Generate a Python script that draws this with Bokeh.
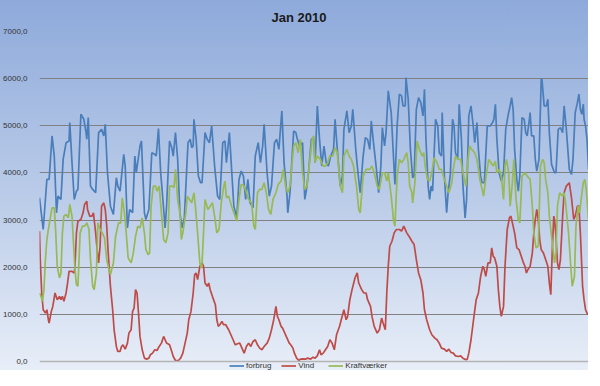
from bokeh.plotting import figure
from bokeh.models import Legend, LegendItem, FixedTicker, Span
from bokeh.embed import file_html
from bokeh.resources import INLINE

title_text = "Jan 2010"
y_ticks = [0, 1000, 2000, 3000, 4000, 5000, 6000, 7000]
y_tick_labels = ["0,0", "1000,0", "2000,0", "3000,0", "4000,0", "5000,0", "6000,0", "7000,0"]
series_names = ["forbrug", "Vind", "Kraftværker"]

# hour of month (0..743) and value
forbrug_hours = [0, 5, 8, 10, 13, 17, 20, 23, 25, 29, 32, 36, 40, 41, 44, 47, 50, 52, 56, 60, 63, 64, 66, 69, 72, 76, 80, 84, 87, 89, 92, 96, 100, 104, 106, 109, 114, 116, 119, 122, 126, 129, 131, 136, 138, 142, 144, 148, 152, 156, 158, 161, 164, 167, 170, 172, 176, 179, 181, 184, 187, 190, 193, 196, 199, 201, 204, 206, 208, 209, 212, 215, 218,
                 220, 224, 227, 230, 233, 237, 241, 244, 248, 251, 253, 257, 260, 263, 267, 270, 273, 276, 279, 282, 285, 289, 292, 296, 299, 302, 304, 308, 311, 314, 318, 321, 324, 328, 331, 335, 336, 339, 344, 347, 349, 352, 356, 359, 361, 364, 368, 371, 373, 376, 379, 382, 385, 388, 391, 394, 398, 400, 403, 407, 410, 412, 416, 419, 422, 424, 428, 431, 434, 438, 441, 444, 447, 449, 452, 456, 459, 462, 464, 467, 469, 472, 476, 479, 481, 484,
                 487, 490, 492, 495, 496, 499, 502, 505, 507, 510, 513, 516, 519, 521, 523, 526, 528, 530, 532, 536, 539, 541, 544, 545, 548, 551, 553, 556, 559, 561, 563, 566, 568, 571, 573, 576, 578, 581, 584, 587, 589, 592, 594, 597, 599, 602, 606, 610, 613, 615, 617, 619, 622, 625, 628, 631, 634, 636, 639, 641, 643, 646, 648, 650, 653, 656, 658, 660, 663, 664, 666, 669, 671, 673, 676, 679, 680, 683, 686, 688, 690, 693, 697, 699, 702, 705, 708, 710, 713, 717, 720, 722, 725, 728, 730, 732, 734, 736, 737, 739, 741, 743]
forbrug_values = [3473, 2800, 3437, 3862, 3862, 4784, 4358, 3154, 3508, 3437, 4288, 4642, 4677, 5067, 4217, 3437, 3614, 3650, 5244, 5138, 4855, 4713, 5174, 3721, 3650, 3579, 4855, 4925, 4784, 5032, 4004, 3295, 3118, 3898, 3721, 3614, 4394, 4146, 2835, 3225, 3154, 4358, 4004, 4571, 4677, 3154, 3012, 3225, 4429, 4394, 4358, 4940, 4004, 3437, 2835, 3295, 4677, 4536, 4358, 4855, 4288, 3154, 2835, 3047, 4004, 4642, 4713, 4536, 4571, 5138, 4713, 3933, 3792,
                  3792, 4855, 4713, 4642, 4996, 4146, 3508, 3437, 4642, 4677, 4217, 4855, 4075, 3295, 3047, 3862, 4040, 3933, 3437, 3862, 3366, 3260, 4358, 4642, 4217, 4571, 5032, 4004, 3508, 3721, 4642, 4713, 4500, 5315, 4217, 3508, 3154, 3579, 4890, 4855, 4713, 4571, 4642, 3437, 3614, 4004, 4713, 4748, 4217, 5421, 4713, 4146, 4571, 4217, 4146, 4358, 4500, 5138, 4500, 3721, 3933, 4925, 5315, 4855, 4996, 5350, 4500, 4004, 3579, 4358, 4748, 4713, 4500, 5103, 4642, 4075, 3579, 4146, 4961, 4571, 4855, 5740, 5280, 4358, 3756, 4996,
                  5670, 5634, 5421, 5421, 6024, 5563, 4500, 3898, 3933, 5350, 5599, 5492, 5209, 5776, 4713, 3721, 3437, 3721, 3614, 5138, 4996, 4429, 4358, 5280, 3933, 3154, 3579, 3969, 5138, 4996, 4429, 4288, 5457, 4713, 3756, 3047, 3437, 5209, 5421, 4996, 4642, 5067, 4500, 3933, 3792, 3792, 4996, 4996, 5067, 5138, 5457, 4713, 4004, 3827, 4004, 4925, 5209, 5350, 5599, 5350, 4500, 3862, 3614, 3933, 5174, 5138, 4855, 4784, 5138, 5280, 4784, 4784, 4288, 4040, 4288, 5988, 5988, 5421, 5421, 5563, 4855, 4181, 4004, 4004, 4925, 4961, 4855, 5421, 4925, 4075, 3969, 4288, 5280, 5492, 5670, 5350, 5244, 5457, 5138, 4996, 4713, 4075]

vind_hours = [0, 1, 3, 5, 8, 10, 12, 13, 16, 18, 21, 24, 27, 29, 31, 33, 36, 38, 40, 44, 47, 48, 50, 52, 56, 59, 61, 64, 65, 68, 71, 73, 76, 78, 80, 82, 84, 87, 89, 91, 93, 96, 99, 101, 104, 106, 109, 111, 113, 116, 119, 121, 124, 126, 128, 130, 132, 134, 136, 139, 142, 145, 148, 150, 153, 156, 159, 162, 165, 168, 170, 172, 176, 179, 181, 184, 188, 191, 194, 197, 200, 202, 205, 208, 210, 212, 214, 217,
              220, 222, 224, 227, 229, 231, 234, 238, 240, 242, 244, 247, 249, 252, 256, 259, 262, 265, 268, 271, 274, 277, 280, 283, 286, 289, 292, 295, 298, 301, 304, 308, 311, 314, 317, 320, 322, 324, 327, 329, 332, 335, 338, 340, 343, 345, 348, 351, 353, 357, 360, 363, 367, 370, 373, 376, 379, 381, 384, 387, 390, 393, 396, 399, 402, 406, 409, 412, 415, 417, 420, 423, 427, 430, 432, 436, 439, 442, 444, 448, 450, 453, 457, 460, 463, 465, 468, 470, 472, 474, 477, 480, 483,
              487, 490, 493, 497, 500, 504, 507, 510, 513, 516, 519, 521, 524, 528, 531, 535, 538, 541, 544, 548, 551, 554, 557, 560, 563, 567, 570, 573, 577, 579, 581, 584, 588, 591, 594, 597, 600, 602, 604, 607, 610, 612, 614, 616, 619, 621, 623, 625, 628, 630, 633, 636, 638, 640, 643, 646, 649, 652, 655, 657, 659, 661, 664, 667, 669, 671, 673, 675, 677, 679, 682, 685, 688, 690, 692, 694, 696, 697, 699, 701, 703, 705, 708, 710, 713, 717, 720, 723, 725, 728, 730, 732, 735, 737, 739, 741, 743]
vind_values = [2764, 2162, 1453, 1098, 1028, 1098, 886, 815, 1063, 1169, 1453, 1311, 1382, 1311, 1382, 1276, 1453, 1665, 1913, 1913, 1878, 2020, 2728, 2976, 3012, 3154, 3331, 3402, 3225, 3083, 3083, 3154, 2728, 2374, 2091, 2445, 3295, 3366, 3225, 2870, 2303, 1595, 1098, 673, 319, 213, 213, 319, 354, 262, 390, 602, 673, 1063, 1134, 1524, 1453, 1028, 532, 248, 71, 50, 71, 142, 177, 248, 234, 319, 390, 532, 461, 390, 354, 213, 106, 21, 21, 71, 177, 390, 602, 886, 1063, 1453, 1843, 1878, 1736, 2020,
               2091, 2020, 1665, 1595, 1665, 1524, 1382, 1205, 886, 744, 780, 850, 780, 780, 673, 567, 461, 354, 376, 390, 283, 177, 319, 390, 319, 425, 461, 354, 283, 248, 319, 390, 496, 673, 886, 1169, 957, 886, 744, 709, 602, 496, 390, 354, 283, 177, 71, 21, 50, 57, 50, 71, 50, 92, 71, 120, 248, 142, 177, 248, 319, 461, 390, 248, 567, 744, 921, 1098, 886, 957, 1311, 1524, 1772, 1878, 1665, 1524, 1453, 1453, 1311, 1169, 957, 744, 602, 673, 921, 815, 673, 1453, 2020, 2445, 2551, 2728, 2800,
               2800, 2764, 2870, 2728, 2658, 2551, 2480, 2162, 1878, 1736, 1453, 1098, 886, 673, 567, 496, 461, 390, 283, 262, 213, 262, 191, 177, 120, 106, 120, 71, 35, 50, 177, 461, 957, 1311, 1453, 1807, 2020, 1949, 1807, 2091, 2091, 2410, 2232, 2197, 2020, 1524, 1169, 957, 1169, 2020, 2800, 3047, 3083, 2941, 2728, 2410, 2374, 2232, 2091, 2020, 1878, 1949, 2020, 2303, 2728, 3012, 3225, 3012, 2587, 2374, 2303, 2162, 2020, 1665, 1417, 2374, 3083, 3012, 2658, 2091, 1949, 2162, 3083, 3579, 3721, 3792, 3473, 3012, 3083, 3295, 3295, 2728, 1595, 1311, 1098, 1028, 992]

kraft_hours = [0, 2, 4, 6, 8, 10, 12, 15, 17, 20, 22, 24, 27, 29, 31, 33, 36, 39, 41, 44, 46, 48, 50, 52, 55, 58, 61, 64, 67, 69, 72, 74, 77, 79, 82, 85, 88, 91, 94, 96, 100, 103, 107, 110, 112, 115, 117, 120, 124, 127, 130, 133, 136, 139, 142, 144, 147, 149, 151, 154, 157, 159, 162, 165, 168, 171, 174, 176, 180, 182, 184, 187, 190, 192, 194, 198, 200, 203, 206, 209, 211, 214, 217, 219,
               220, 222, 224, 228, 231, 234, 237, 240, 243, 246, 249, 251, 253, 256, 260, 263, 267, 270, 273, 277, 280, 283, 287, 290, 292, 295, 298, 301, 304, 307, 310, 313, 316, 320, 323, 327, 330, 333, 336, 339, 344, 347, 350, 353, 356, 359, 362, 365, 369, 371, 373, 376, 380, 384, 387, 390, 393, 397, 400, 403, 407, 410, 412, 416, 419, 422, 425, 429, 432, 434, 438, 442, 447, 450, 453, 457, 460, 464, 467, 470, 472, 476, 479, 481, 484,
               487, 490, 493, 497, 499, 501, 504, 505, 508, 511, 514, 518, 520, 522, 525, 528, 531, 534, 538, 541, 544, 548, 551, 554, 558, 560, 563, 567, 570, 573, 577, 580, 582, 585, 589, 592, 596, 599, 601, 605, 608, 611, 614, 617, 619, 622, 625, 628, 630, 632, 635, 637, 640, 642, 645, 648, 650, 653, 657, 660, 664, 667, 669, 672, 675, 678, 681, 683, 685, 688, 690, 693, 697, 699, 701, 704, 708, 710, 712, 716, 719, 721, 724, 726, 729, 731, 733, 736, 738, 740, 743]
kraft_values = [1453, 1382, 1276, 1524, 2162, 2587, 2800, 3083, 3260, 3260, 2728, 2020, 1772, 1878, 2728, 3083, 3118, 3047, 3331, 3083, 2516, 1949, 1630, 1595, 2728, 2870, 2870, 2941, 2800, 2162, 1595, 1524, 1878, 2941, 2800, 2728, 2622, 2162, 1949, 1843, 2091, 2658, 2941, 2941, 3473, 3154, 2800, 2197, 2091, 2303, 2658, 2870, 2835, 3047, 2728, 2374, 2268, 2303, 3295, 3721, 3721, 3614, 3721, 3154, 2587, 2516, 2728, 3721, 3721, 3685, 4075, 3437, 3154, 2587, 2728, 3154, 3508, 3437, 3366, 3579, 3295, 2728, 2091, 1984,
                2091, 2728, 3437, 3225, 3295, 3366, 3083, 2728, 2800, 3366, 3685, 3827, 3473, 3508, 3295, 3154, 2976, 3437, 3756, 3721, 3579, 3437, 3366, 2870, 2800, 3579, 3650, 3650, 3792, 3579, 3225, 3118, 3437, 3579, 3756, 3827, 4075, 3721, 3579, 3721, 4571, 4642, 4429, 4713, 4004, 3650, 3721, 4146, 4713, 4784, 4217, 4358, 4288, 4146, 4146, 4217, 4358, 4358, 4536, 4429, 3721, 3579, 4358, 4500, 4358, 4288, 4146, 3721, 3225, 3154, 3933, 4075, 4075, 4146, 4004, 3721, 3650, 4004, 4004, 3827, 4004, 3508, 3012, 2870, 3933,
                4288, 4217, 4288, 4429, 4217, 3721, 3579, 3366, 3792, 4677, 4500, 4358, 4429, 4146, 3862, 3827, 4004, 4323, 4217, 4075, 4075, 3862, 3721, 3579, 3792, 4075, 4358, 4288, 4288, 4004, 3721, 4288, 4571, 4500, 4429, 4288, 3862, 3650, 3508, 4004, 4288, 4217, 4146, 4252, 4004, 4075, 3933, 3437, 4146, 4288, 4004, 3295, 3792, 4288, 3437, 3012, 2941, 3933, 4004, 3933, 3862, 3295, 2728, 2410, 2445, 4146, 4288, 4217, 3862, 3579, 3083, 2658, 2091, 2303, 3295, 3579, 3508, 3579, 3366, 2728, 2020, 1595, 1807, 2870, 3295, 3154, 3437, 3792, 3862, 3650, 3012]

colors = ["#4a7ebb", "#be4b48", "#98b954"]

# the frame reaches below 0 so that the legend can sit under the 0-line
p = figure(frame_width=549, frame_height=339, output_backend="svg", toolbar_location=None,
           x_range=(0, 743), y_range=(-191, 7000),
           min_border_left=35, min_border_right=0, min_border_top=31, min_border_bottom=0,
           border_fill_color=None, background_fill_color=None, outline_line_color=None)
p.styles = {"background": "linear-gradient(180deg, #8eaadb 0%, #bccde9 55%, #e8eef8 100%)"}

p.title.text = title_text
p.title.align = "left"
p.title.text_font = "Liberation Sans"
p.title.text_font_size = "13px"
p.title.text_font_style = "bold"
p.title.text_color = "#1a1a1a"
p.title.offset = 232
p.title.standoff = 14

p.yaxis.ticker = FixedTicker(ticks=y_ticks)
p.yaxis.major_label_overrides = {t: l for t, l in zip(y_ticks, y_tick_labels)}
p.yaxis.axis_line_color = None
p.yaxis.major_tick_line_color = None
p.yaxis.minor_tick_line_color = None
p.yaxis.major_label_text_font = "Liberation Sans"
p.yaxis.major_label_text_font_size = "8px"
p.yaxis.major_label_text_color = "#333333"
p.yaxis.major_label_standoff = 6

p.xaxis.visible = False

p.xgrid.grid_line_color = None
p.ygrid.ticker = FixedTicker(ticks=y_ticks[1:])
p.ygrid.grid_line_color = "#808080"
p.ygrid.grid_line_width = 1

# category axis baseline at 0
p.add_layout(Span(location=y_ticks[0], dimension="width", line_color="#b4b4b4", line_width=1.5))

r1 = p.line(forbrug_hours, forbrug_values, line_color=colors[0], line_width=1.7)
r2 = p.line(vind_hours, vind_values, line_color=colors[1], line_width=1.7)
r3 = p.line(kraft_hours, kraft_values, line_color=colors[2], line_width=1.7)

legend = Legend(items=[LegendItem(label=series_names[0], renderers=[r1]),
                       LegendItem(label=series_names[1], renderers=[r2]),
                       LegendItem(label=series_names[2], renderers=[r3])],
                orientation="horizontal", location=(190, 0), margin=0,
                glyph_width=15, glyph_height=9, label_standoff=2, spacing=10, padding=0,
                label_text_font="Liberation Sans", label_text_font_size="8px", label_text_color="#333333",
                border_line_color=None, background_fill_color=None, background_fill_alpha=0,
                label_height=9)
p.add_layout(legend, "center")

open("out.html", "w").write(file_html(p, INLINE))
